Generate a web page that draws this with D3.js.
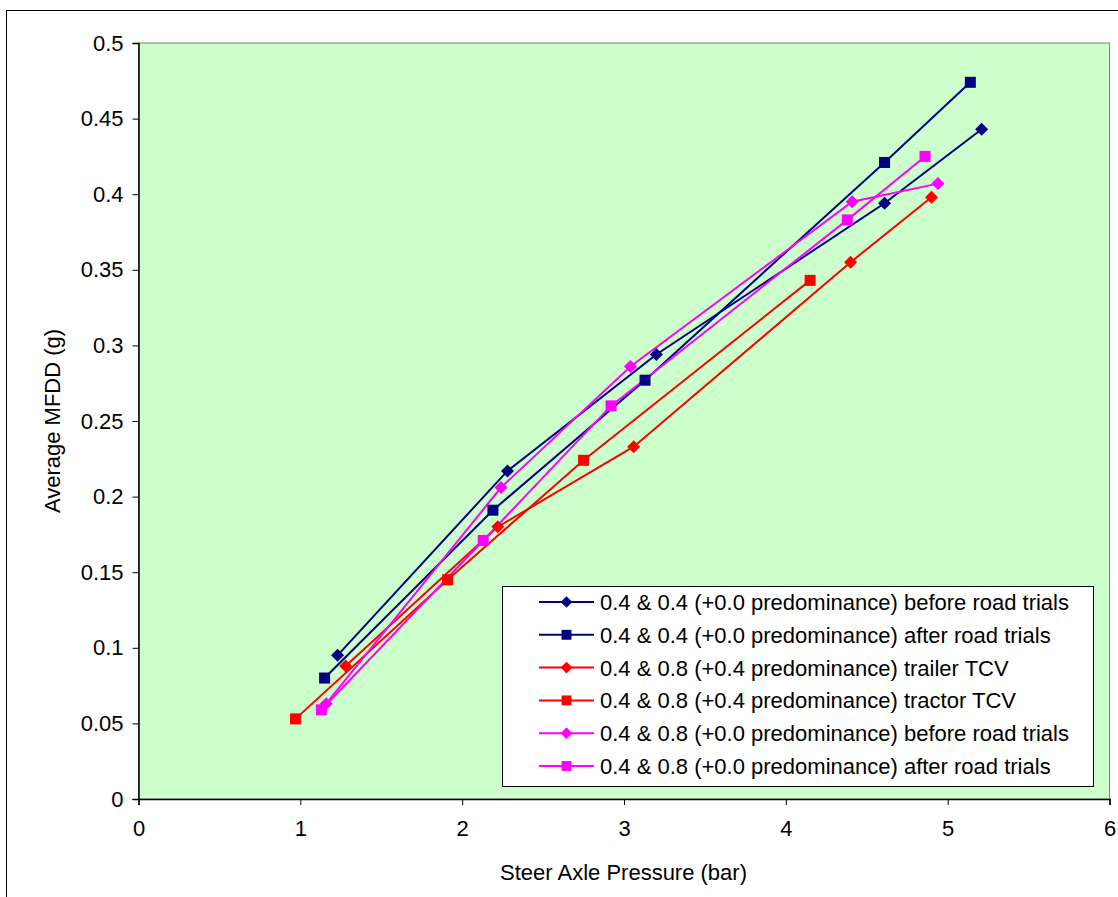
<!DOCTYPE html>
<html>
<head>
<meta charset="utf-8">
<script src="https://cdn.jsdelivr.net/npm/d3@7"></script>
<style>
  html, body { margin: 0; padding: 0; background: #fff; }
  svg { display: block; }
  text { font-family: "Liberation Sans", Arial, sans-serif; fill: #000; }
</style>
</head>
<body>
<svg id="chart" width="1118" height="897"></svg>
<script>
// ---- data ----
const seriesNames = [
  "0.4 & 0.4 (+0.0 predominance) before road trials",
  "0.4 & 0.4 (+0.0 predominance) after road trials",
  "0.4 & 0.8 (+0.4 predominance) trailer TCV",
  "0.4 & 0.8 (+0.4 predominance) tractor TCV",
  "0.4 & 0.8 (+0.0 predominance) before road trials",
  "0.4 & 0.8 (+0.0 predominance) after road trials"
];
const seriesColors = ["#000080", "#000080", "#FF0000", "#FF0000", "#FF00FF", "#FF00FF"];
const seriesMarkers = ["diamond", "square", "diamond", "square", "diamond", "square"];

const s1x = [1.23, 2.28, 3.20, 4.61, 5.21];
const s1y = [0.095, 0.217, 0.294, 0.394, 0.443];
const s2x = [1.15, 2.19, 3.13, 4.61, 5.14];
const s2y = [0.080, 0.191, 0.277, 0.421, 0.474];
const s3x = [1.28, 2.22, 3.06, 4.40, 4.90];
const s3y = [0.088, 0.180, 0.233, 0.355, 0.398];
const s4x = [0.97, 1.91, 2.75, 4.15];
const s4y = [0.053, 0.145, 0.224, 0.343];
const s5x = [1.16, 2.24, 3.04, 4.41, 4.94];
const s5y = [0.063, 0.206, 0.286, 0.395, 0.407];
const s6x = [1.13, 2.13, 2.92, 4.38, 4.86];
const s6y = [0.059, 0.171, 0.260, 0.383, 0.425];

const xTicks = [0, 1, 2, 3, 4, 5, 6];
const yTicks = [0, 0.05, 0.1, 0.15, 0.2, 0.25, 0.3, 0.35, 0.4, 0.45, 0.5];
const xTitle = "Steer Axle Pressure (bar)";
const yTitle = "Average MFDD (g)";

const allX = [s1x, s2x, s3x, s4x, s5x, s6x];
const allY = [s1y, s2y, s3y, s4y, s5y, s6y];
const series = seriesNames.map((name, i) => ({
  name, color: seriesColors[i], marker: seriesMarkers[i],
  pts: allX[i].map((x, j) => ({x, y: allY[i][j]}))
}));

// ---- layout ----
const svg = d3.select("#chart");
const plot = {left: 138.5, top: 43, right: 1109.5, bottom: 799};
const x = d3.scaleLinear().domain([0, 6]).range([plot.left, plot.right]);
const y = d3.scaleLinear().domain([0, 0.5]).range([plot.bottom, plot.top]);

// outer frame
svg.append("rect").attr("x", 6.5).attr("y", 10.5).attr("width", 1200).attr("height", 1000)
  .attr("fill", "#fff").attr("stroke", "#000").attr("stroke-width", 1);

// plot background
svg.append("rect").attr("x", plot.left).attr("y", plot.top)
  .attr("width", plot.right - plot.left).attr("height", plot.bottom - plot.top)
  .attr("fill", "#CCFFCC").attr("stroke", "#808080").attr("stroke-width", 1);

// axes
const fs = 22;
const yAxis = svg.append("g").attr("transform", `translate(${plot.left},0)`)
  .call(d3.axisLeft(y).tickValues(yTicks).tickSize(6).tickPadding(9).tickFormat(d => String(+d.toFixed(2))));
const xAxis = svg.append("g").attr("transform", `translate(0,${plot.bottom})`)
  .call(d3.axisBottom(x).tickValues(xTicks).tickSize(6).tickPadding(15).tickFormat(d3.format("d")));
[xAxis, yAxis].forEach(g => {
  g.select(".domain").attr("stroke", "#000").attr("stroke-width", 1.5);
  g.selectAll(".tick line").attr("stroke", "#000").attr("stroke-width", 1);
  g.selectAll(".tick text").attr("font-size", fs).attr("font-family", "Liberation Sans, Arial, sans-serif").attr("fill", "#000");
});

// axis titles
svg.append("text").attr("x", (plot.left + plot.right) / 2 - 0.5).attr("y", 880)
  .attr("text-anchor", "middle").attr("font-size", fs).text(xTitle);
svg.append("text").attr("transform", `translate(60,421) rotate(-90)`)
  .attr("text-anchor", "middle").attr("font-size", fs).text(yTitle);

// markers
function drawMarker(g, type, cx, cy, color, scale) {
  const k = scale || 1;
  if (type === "diamond") {
    const r = 6.5 * k;
    g.append("path").attr("d", `M${cx},${cy - r}L${cx + r},${cy}L${cx},${cy + r}L${cx - r},${cy}Z`).attr("fill", color);
  } else {
    const s = 11 * k;
    g.append("rect").attr("x", cx - s / 2).attr("y", cy - s / 2).attr("width", s).attr("height", s).attr("fill", color);
  }
}

const line = d3.line().x(d => x(d.x)).y(d => y(d.y));
const gData = svg.append("g");
series.forEach(s => {
  gData.append("path").datum(s.pts).attr("d", line).attr("fill", "none")
    .attr("stroke", s.color).attr("stroke-width", 2);
});
series.forEach(s => {
  s.pts.forEach(p => drawMarker(gData, s.marker, x(p.x), y(p.y), s.color));
});

// legend
const lg = svg.append("g");
lg.append("rect").attr("x", 502.5).attr("y", 586.5).attr("width", 591).attr("height", 200)
  .attr("fill", "#fff").attr("stroke", "#000").attr("stroke-width", 1);
series.forEach((s, i) => {
  const cy = 602 + i * 32.8;
  lg.append("line").attr("x1", 539).attr("x2", 594).attr("y1", cy).attr("y2", cy)
    .attr("stroke", s.color).attr("stroke-width", 2);
  drawMarker(lg, s.marker, 566.5, cy, s.color, 0.9);
  lg.append("text").attr("x", 600).attr("y", cy + 8).attr("font-size", fs).text(s.name);
});
</script>
</body>
</html>
